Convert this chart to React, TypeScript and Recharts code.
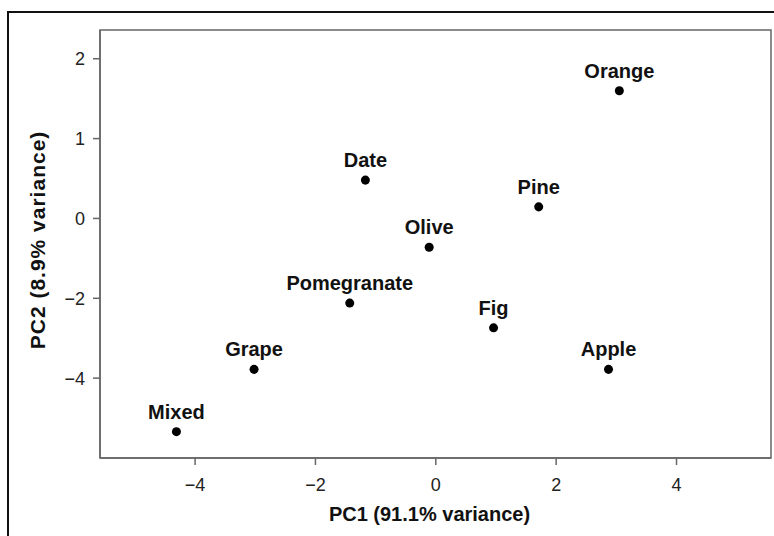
import {
  ScatterChart,
  Scatter,
  XAxis,
  YAxis,
  ReferenceArea,
  LabelList,
} from "recharts";

// PCA scores. PC2 is stored in tick-step units because
// the printed axis labels are not evenly spaced (2, 1, 0, -2, -4).
const names = [
  "Orange",
  "Date",
  "Pine",
  "Olive",
  "Pomegranate",
  "Fig",
  "Apple",
  "Grape",
  "Mixed",
];
const pc1 = [3.05, -1.17, 1.71, -0.11, -1.43, 0.96, 2.87, -3.02, -4.31];
const pc2 = [1.6, 0.48, 0.145, -0.36, -1.06, -1.37, -1.89, -1.89, -2.67];

const xTicks = [-4, -2, 0, 2, 4];
const yTickSteps = [-2, -1, 0, 1, 2];
const yTickLabels = ["−4", "−2", "0", "1", "2"];

const xDomain: [number, number] = [-5.58, 5.57];
const yDomain: [number, number] = [-3.0, 2.36];

const data = names.map((name, i) => ({ name, x: pc1[i], y: pc2[i] }));

const font = '"Liberation Sans", Arial, Helvetica, sans-serif';
const ink = "#111";
const axisGray = "#666";

const fmtX = (v: number) => (v < 0 ? `−${-v}` : `${v}`);
const fmtY = (v: number) => {
  const i = yTickSteps.indexOf(v);
  return i >= 0 ? yTickLabels[i] : `${v}`;
};

export default function App() {
  return (
    <div
      style={{
        position: "absolute",
        left: 0,
        top: 0,
        width: 774,
        height: 536,
        background: "#fff",
        overflow: "hidden",
        fontFamily: font,
      }}
    >
      <div
        style={{
          position: "absolute",
          left: 7,
          top: 11,
          right: -4,
          bottom: -4,
          borderLeft: "2px solid #111",
          borderTop: "2px solid #111",
        }}
      />
      <div style={{ position: "absolute", left: 0, top: 0 }}>
        <ScatterChart
          width={774}
          height={536}
          margin={{ top: 30, right: 3, bottom: 0, left: 0 }}
        >
          <XAxis
            type="number"
            dataKey="x"
            domain={xDomain}
            ticks={xTicks}
            tickFormatter={fmtX}
            allowDataOverflow
            height={78}
            stroke={axisGray}
            strokeWidth={1.5}
            tickSize={7}
            tickMargin={13}
            tick={{ fontSize: 18, fill: "#222", fontFamily: font }}
            label={{
              content: ({ viewBox }: any) => (
                <text
                  x={viewBox.x + viewBox.width / 2 - 6}
                  y={viewBox.y + 63}
                  textAnchor="middle"
                  fontSize={20}
                  fontWeight="bold"
                  fill={ink}
                  fontFamily={font}
                >
                  PC1 (91.1% variance)
                </text>
              ),
            }}
          />
          <YAxis
            type="number"
            dataKey="y"
            domain={yDomain}
            ticks={yTickSteps}
            tickFormatter={fmtY}
            allowDataOverflow
            width={100}
            stroke={axisGray}
            strokeWidth={1.5}
            tickSize={7}
            tickMargin={8}
            tick={{ fontSize: 18, fill: "#222", fontFamily: font }}
            label={{
              content: ({ viewBox }: any) => {
                const cx = viewBox.x + 45;
                const cy = viewBox.y + viewBox.height / 2 - 4;
                return (
                  <text
                    x={cx}
                    y={cy}
                    transform={`rotate(-90 ${cx} ${cy})`}
                    textAnchor="middle"
                    fontSize={21}
                    fontWeight="bold"
                    letterSpacing={1}
                    fill={ink}
                    fontFamily={font}
                  >
                    PC2 (8.9% variance)
                  </text>
                );
              },
            }}
          />
          <ReferenceArea
            x1={xDomain[0]}
            x2={xDomain[1]}
            y1={yDomain[0]}
            y2={yDomain[1]}
            fill="none"
            stroke={axisGray}
            strokeWidth={1.5}
            ifOverflow="visible"
          />
          <Scatter data={data} fill="#000" isAnimationActive={false}>
            <LabelList
              dataKey="name"
              position="top"
              offset={8.5}
              fill={ink}
              fontSize={20}
              fontWeight="bold"
              fontFamily={font}
            />
          </Scatter>
        </ScatterChart>
      </div>
    </div>
  );
}
